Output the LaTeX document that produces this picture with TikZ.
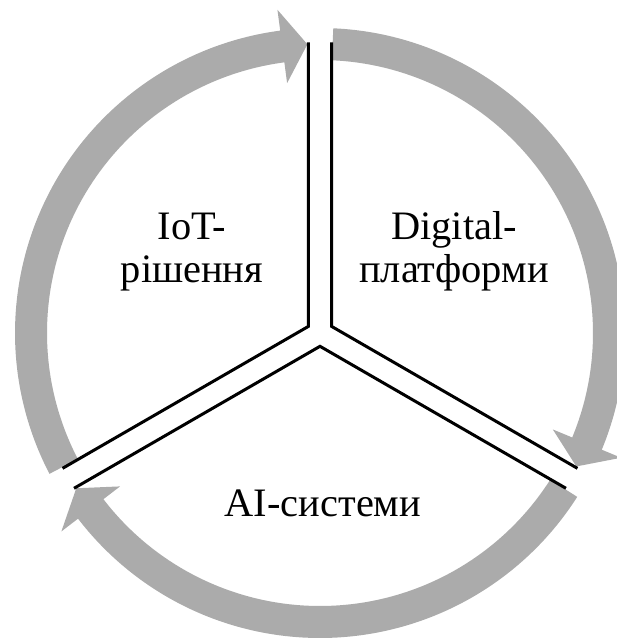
\documentclass[tikz,border=0pt]{standalone}
\usepackage{fontspec}
\setmainfont{Liberation Serif}
\usetikzlibrary{calc}
\colorlet{cring}{black!33}
\tikzset{
  sector/.style={line width=2.25pt, line join=miter},
  lbl/.style={font=\fontsize{30.3}{32.5}\selectfont, align=center, inner sep=0pt}
}

\begin{document}
\begin{tikzpicture}[x=0.75pt,y=0.75pt]
\useasboundingbox (-320,-306) rectangle (297,333);
% gray ring arrows, clockwise
\foreach \a in {207.5,87.5,-32.5}{
  \pgfmathsetmacro\b{\a-110}
  \pgfmathsetmacro\t{\a-115}
  \fill[cring] (\a:305) arc[start angle=\a, end angle=\b, radius=305]
    -- (\b:326) -- (\t:289) -- (\b:252) -- (\b:273)
    arc[start angle=\b, end angle=\a, radius=273] -- cycle;
}
% three wedges
\foreach \n/\k/\p/\q in {iot/150/90/210, dig/30/90/-30, ai/270/210/-30}{
  \coordinate (k\n) at (\k:13.3);
  \draw[sector] ($(k\n)+(\p:284)$) -- (k\n) -- ($(k\n)+(\q:284)$);
}
\node[lbl] (iot) at (-128,81) {IoT-\\рішення};
\node[lbl] (dig) at (134,82) {Digital-\\платформи};
\node[lbl, anchor=base] (ai) at (3,-183) {AI-системи};
\end{tikzpicture}
\end{document}
